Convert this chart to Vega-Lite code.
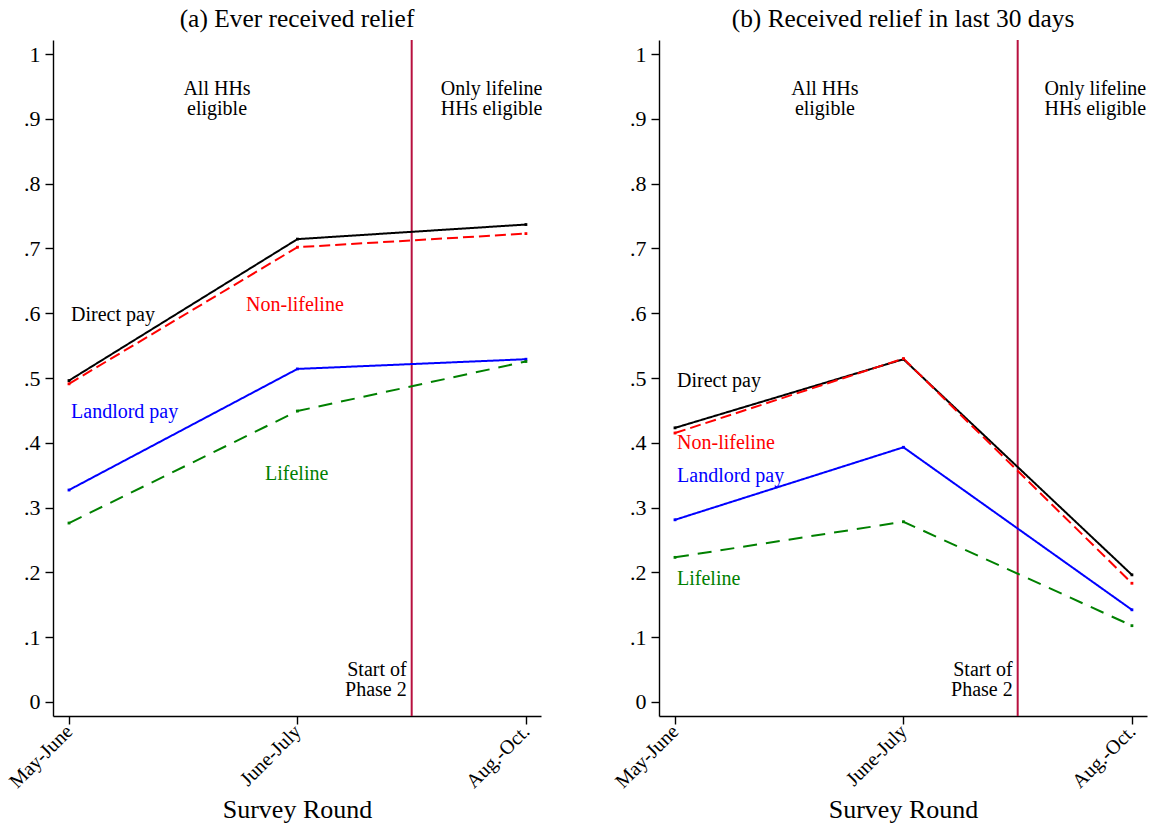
{
  "$schema": "https://vega.github.io/schema/vega-lite/v6.json",
  "padding": {"left": 5, "top": 6, "right": 2, "bottom": 2},
  "spacing": 68,
  "datasets": {
    "lines": [
      {"panel": "a", "series": "Direct pay", "round": "May-June", "x": 0, "y": 0.496},
      {"panel": "a", "series": "Direct pay", "round": "June-July", "x": 1, "y": 0.7145},
      {"panel": "a", "series": "Direct pay", "round": "Aug.-Oct.", "x": 2, "y": 0.737},
      {"panel": "a", "series": "Landlord pay", "round": "May-June", "x": 0, "y": 0.327},
      {"panel": "a", "series": "Landlord pay", "round": "June-July", "x": 1, "y": 0.514},
      {"panel": "a", "series": "Landlord pay", "round": "Aug.-Oct.", "x": 2, "y": 0.529},
      {"panel": "a", "series": "Non-lifeline", "round": "May-June", "x": 0, "y": 0.491},
      {"panel": "a", "series": "Non-lifeline", "round": "June-July", "x": 1, "y": 0.702},
      {"panel": "a", "series": "Non-lifeline", "round": "Aug.-Oct.", "x": 2, "y": 0.723},
      {"panel": "a", "series": "Lifeline", "round": "May-June", "x": 0, "y": 0.276},
      {"panel": "a", "series": "Lifeline", "round": "June-July", "x": 1, "y": 0.449},
      {"panel": "a", "series": "Lifeline", "round": "Aug.-Oct.", "x": 2, "y": 0.5255},
      {"panel": "b", "series": "Direct pay", "round": "May-June", "x": 0, "y": 0.423},
      {"panel": "b", "series": "Direct pay", "round": "June-July", "x": 1, "y": 0.529},
      {"panel": "b", "series": "Direct pay", "round": "Aug.-Oct.", "x": 2, "y": 0.196},
      {"panel": "b", "series": "Landlord pay", "round": "May-June", "x": 0, "y": 0.281},
      {"panel": "b", "series": "Landlord pay", "round": "June-July", "x": 1, "y": 0.393},
      {"panel": "b", "series": "Landlord pay", "round": "Aug.-Oct.", "x": 2, "y": 0.142},
      {"panel": "b", "series": "Non-lifeline", "round": "May-June", "x": 0, "y": 0.415},
      {"panel": "b", "series": "Non-lifeline", "round": "June-July", "x": 1, "y": 0.530},
      {"panel": "b", "series": "Non-lifeline", "round": "Aug.-Oct.", "x": 2, "y": 0.183},
      {"panel": "b", "series": "Lifeline", "round": "May-June", "x": 0, "y": 0.223},
      {"panel": "b", "series": "Lifeline", "round": "June-July", "x": 1, "y": 0.278},
      {"panel": "b", "series": "Lifeline", "round": "Aug.-Oct.", "x": 2, "y": 0.1175}
    ],
    "labels": [
      {"panel": "a", "series": "Direct pay", "x": 0.009, "y": 0.597},
      {"panel": "a", "series": "Non-lifeline", "x": 0.775, "y": 0.612},
      {"panel": "a", "series": "Landlord pay", "x": 0.009, "y": 0.448},
      {"panel": "a", "series": "Lifeline", "x": 0.858, "y": 0.352},
      {"panel": "b", "series": "Direct pay", "x": 0.009, "y": 0.496},
      {"panel": "b", "series": "Non-lifeline", "x": 0.009, "y": 0.399},
      {"panel": "b", "series": "Landlord pay", "x": 0.009, "y": 0.348},
      {"panel": "b", "series": "Lifeline", "x": 0.009, "y": 0.189}
    ],
    "headers": [
      {"panel": "a", "text": "All HHs\neligible", "x": 0.648, "y": 0.947},
      {"panel": "a", "text": "Only lifeline\nHHs eligible", "x": 1.85, "y": 0.947},
      {"panel": "b", "text": "All HHs\neligible", "x": 0.656, "y": 0.947},
      {"panel": "b", "text": "Only lifeline\nHHs eligible", "x": 1.84, "y": 0.947}
    ],
    "phase": [
      {"panel": "a", "text": "Start of\nPhase 2", "x": 1.5, "y": 0.0487},
      {"panel": "b", "text": "Start of\nPhase 2", "x": 1.5, "y": 0.0487}
    ]
  },
  "config": {
    "font": "Liberation Serif",
    "view": {"stroke": null},
    "title": {"fontSize": 25.4, "fontWeight": "normal", "color": "black", "offset": 7, "anchor": "middle", "font": "Liberation Serif"},
    "axis": {"domainColor": "black", "tickColor": "black", "labelColor": "black", "titleColor": "black", "grid": false, "domainWidth": 1.4, "tickWidth": 1.4, "tickSize": 8, "titleFontWeight": "normal", "labelFont": "Liberation Serif", "titleFont": "Liberation Serif"},
    "text": {"font": "Liberation Serif"}
  },
  "hconcat": [
    {
      "title": {"text": "(a) Ever received relief"},
      "width": 488,
      "height": 676,
      "layer": [
        {
          "data": {"name": "phase"},
          "transform": [{"filter": "datum.panel == 'a'"}],
          "mark": {"type": "rule", "color": "#B8103F", "strokeWidth": 2},
          "encoding": {"x": {"field": "x", "type": "quantitative", "title": "Survey Round", "scale": {"domain": [-0.07, 2.066], "nice": false, "zero": false}}}
        },
        {
          "data": {"name": "lines"},
          "transform": [{"filter": "datum.panel == 'a'"}],
          "mark": {"type": "line", "strokeWidth": 2},
          "encoding": {
            "x": {"field": "x", "type": "quantitative", "title": "Survey Round",
                  "axis": {"values": [0, 1, 2], "labelExpr": "datum.value == 0 ? 'May-June' : datum.value == 1 ? 'June-July' : 'Aug.-Oct.'", "labelAngle": -45, "labelAlign": "right", "labelBaseline": "middle", "labelFontSize": 20, "labelPadding": 4, "titleFontSize": 26, "titlePadding": 5}},
            "y": {"field": "y", "type": "quantitative", "title": null, "scale": {"domain": [-0.022, 1.022], "nice": false, "zero": false},
                  "axis": {"values": [0, 0.1, 0.2, 0.3, 0.4, 0.5, 0.6, 0.7, 0.8, 0.9, 1], "labelExpr": "datum.value == 0 ? '0' : datum.value == 1 ? '1' : '.' + round(datum.value * 10)", "labelFontSize": 22, "labelPadding": 5}},
            "color": {"field": "series", "type": "nominal", "legend": null, "scale": {"domain": ["Direct pay", "Non-lifeline", "Landlord pay", "Lifeline"], "range": ["#000000", "#FF0000", "#0000FF", "#008000"]}},
            "strokeDash": {"field": "series", "type": "nominal", "legend": null, "scale": {"domain": ["Direct pay", "Non-lifeline", "Landlord pay", "Lifeline"], "range": [[1, 0], [11, 5], [1, 0], [14, 9]]}},
            "detail": {"field": "series"}
          }
        },
        {
          "data": {"name": "lines"},
          "transform": [{"filter": "datum.panel == 'a'"}],
          "mark": {"type": "point", "shape": "square", "size": 8, "filled": true, "opacity": 1},
          "encoding": {
            "x": {"field": "x", "type": "quantitative", "title": "Survey Round"},
            "y": {"field": "y", "type": "quantitative", "title": null},
            "color": {"field": "series", "type": "nominal", "legend": null}
          }
        },
        {
          "data": {"name": "labels"},
          "transform": [{"filter": "datum.panel == 'a'"}],
          "mark": {"type": "text", "align": "left", "baseline": "middle", "fontSize": 20},
          "encoding": {
            "x": {"field": "x", "type": "quantitative", "title": "Survey Round"},
            "y": {"field": "y", "type": "quantitative", "title": null},
            "text": {"field": "series"},
            "color": {"field": "series", "type": "nominal", "legend": null}
          }
        },
        {
          "data": {"name": "headers"},
          "transform": [{"filter": "datum.panel == 'a'"}],
          "mark": {"type": "text", "align": "center", "baseline": "middle", "fontSize": 20, "lineBreak": "\n", "lineHeight": 20, "color": "black"},
          "encoding": {
            "x": {"field": "x", "type": "quantitative", "title": "Survey Round"},
            "y": {"field": "y", "type": "quantitative", "title": null},
            "text": {"field": "text"}
          }
        },
        {
          "data": {"name": "phase"},
          "transform": [{"filter": "datum.panel == 'a'"}],
          "mark": {"type": "text", "align": "right", "baseline": "middle", "fontSize": 20, "lineBreak": "\n", "lineHeight": 20, "color": "black", "dx": -5},
          "encoding": {
            "x": {"field": "x", "type": "quantitative", "title": "Survey Round"},
            "y": {"field": "y", "type": "quantitative", "title": null},
            "text": {"field": "text"}
          }
        }
      ]
    },
    {
      "title": {"text": "(b) Received relief in last 30 days"},
      "width": 488,
      "height": 676,
      "layer": [
        {
          "data": {"name": "phase"},
          "transform": [{"filter": "datum.panel == 'b'"}],
          "mark": {"type": "rule", "color": "#B8103F", "strokeWidth": 2},
          "encoding": {"x": {"field": "x", "type": "quantitative", "title": "Survey Round", "scale": {"domain": [-0.07, 2.066], "nice": false, "zero": false}}}
        },
        {
          "data": {"name": "lines"},
          "transform": [{"filter": "datum.panel == 'b'"}],
          "mark": {"type": "line", "strokeWidth": 2},
          "encoding": {
            "x": {"field": "x", "type": "quantitative", "title": "Survey Round",
                  "axis": {"values": [0, 1, 2], "labelExpr": "datum.value == 0 ? 'May-June' : datum.value == 1 ? 'June-July' : 'Aug.-Oct.'", "labelAngle": -45, "labelAlign": "right", "labelBaseline": "middle", "labelFontSize": 20, "labelPadding": 4, "titleFontSize": 26, "titlePadding": 5}},
            "y": {"field": "y", "type": "quantitative", "title": null, "scale": {"domain": [-0.022, 1.022], "nice": false, "zero": false},
                  "axis": {"values": [0, 0.1, 0.2, 0.3, 0.4, 0.5, 0.6, 0.7, 0.8, 0.9, 1], "labelExpr": "datum.value == 0 ? '0' : datum.value == 1 ? '1' : '.' + round(datum.value * 10)", "labelFontSize": 22, "labelPadding": 5}},
            "color": {"field": "series", "type": "nominal", "legend": null, "scale": {"domain": ["Direct pay", "Non-lifeline", "Landlord pay", "Lifeline"], "range": ["#000000", "#FF0000", "#0000FF", "#008000"]}},
            "strokeDash": {"field": "series", "type": "nominal", "legend": null, "scale": {"domain": ["Direct pay", "Non-lifeline", "Landlord pay", "Lifeline"], "range": [[1, 0], [11, 5], [1, 0], [14, 9]]}},
            "detail": {"field": "series"}
          }
        },
        {
          "data": {"name": "lines"},
          "transform": [{"filter": "datum.panel == 'b'"}],
          "mark": {"type": "point", "shape": "square", "size": 8, "filled": true, "opacity": 1},
          "encoding": {
            "x": {"field": "x", "type": "quantitative", "title": "Survey Round"},
            "y": {"field": "y", "type": "quantitative", "title": null},
            "color": {"field": "series", "type": "nominal", "legend": null}
          }
        },
        {
          "data": {"name": "labels"},
          "transform": [{"filter": "datum.panel == 'b'"}],
          "mark": {"type": "text", "align": "left", "baseline": "middle", "fontSize": 20},
          "encoding": {
            "x": {"field": "x", "type": "quantitative", "title": "Survey Round"},
            "y": {"field": "y", "type": "quantitative", "title": null},
            "text": {"field": "series"},
            "color": {"field": "series", "type": "nominal", "legend": null}
          }
        },
        {
          "data": {"name": "headers"},
          "transform": [{"filter": "datum.panel == 'b'"}],
          "mark": {"type": "text", "align": "center", "baseline": "middle", "fontSize": 20, "lineBreak": "\n", "lineHeight": 20, "color": "black"},
          "encoding": {
            "x": {"field": "x", "type": "quantitative", "title": "Survey Round"},
            "y": {"field": "y", "type": "quantitative", "title": null},
            "text": {"field": "text"}
          }
        },
        {
          "data": {"name": "phase"},
          "transform": [{"filter": "datum.panel == 'b'"}],
          "mark": {"type": "text", "align": "right", "baseline": "middle", "fontSize": 20, "lineBreak": "\n", "lineHeight": 20, "color": "black", "dx": -5},
          "encoding": {
            "x": {"field": "x", "type": "quantitative", "title": "Survey Round"},
            "y": {"field": "y", "type": "quantitative", "title": null},
            "text": {"field": "text"}
          }
        }
      ]
    }
  ]
}
